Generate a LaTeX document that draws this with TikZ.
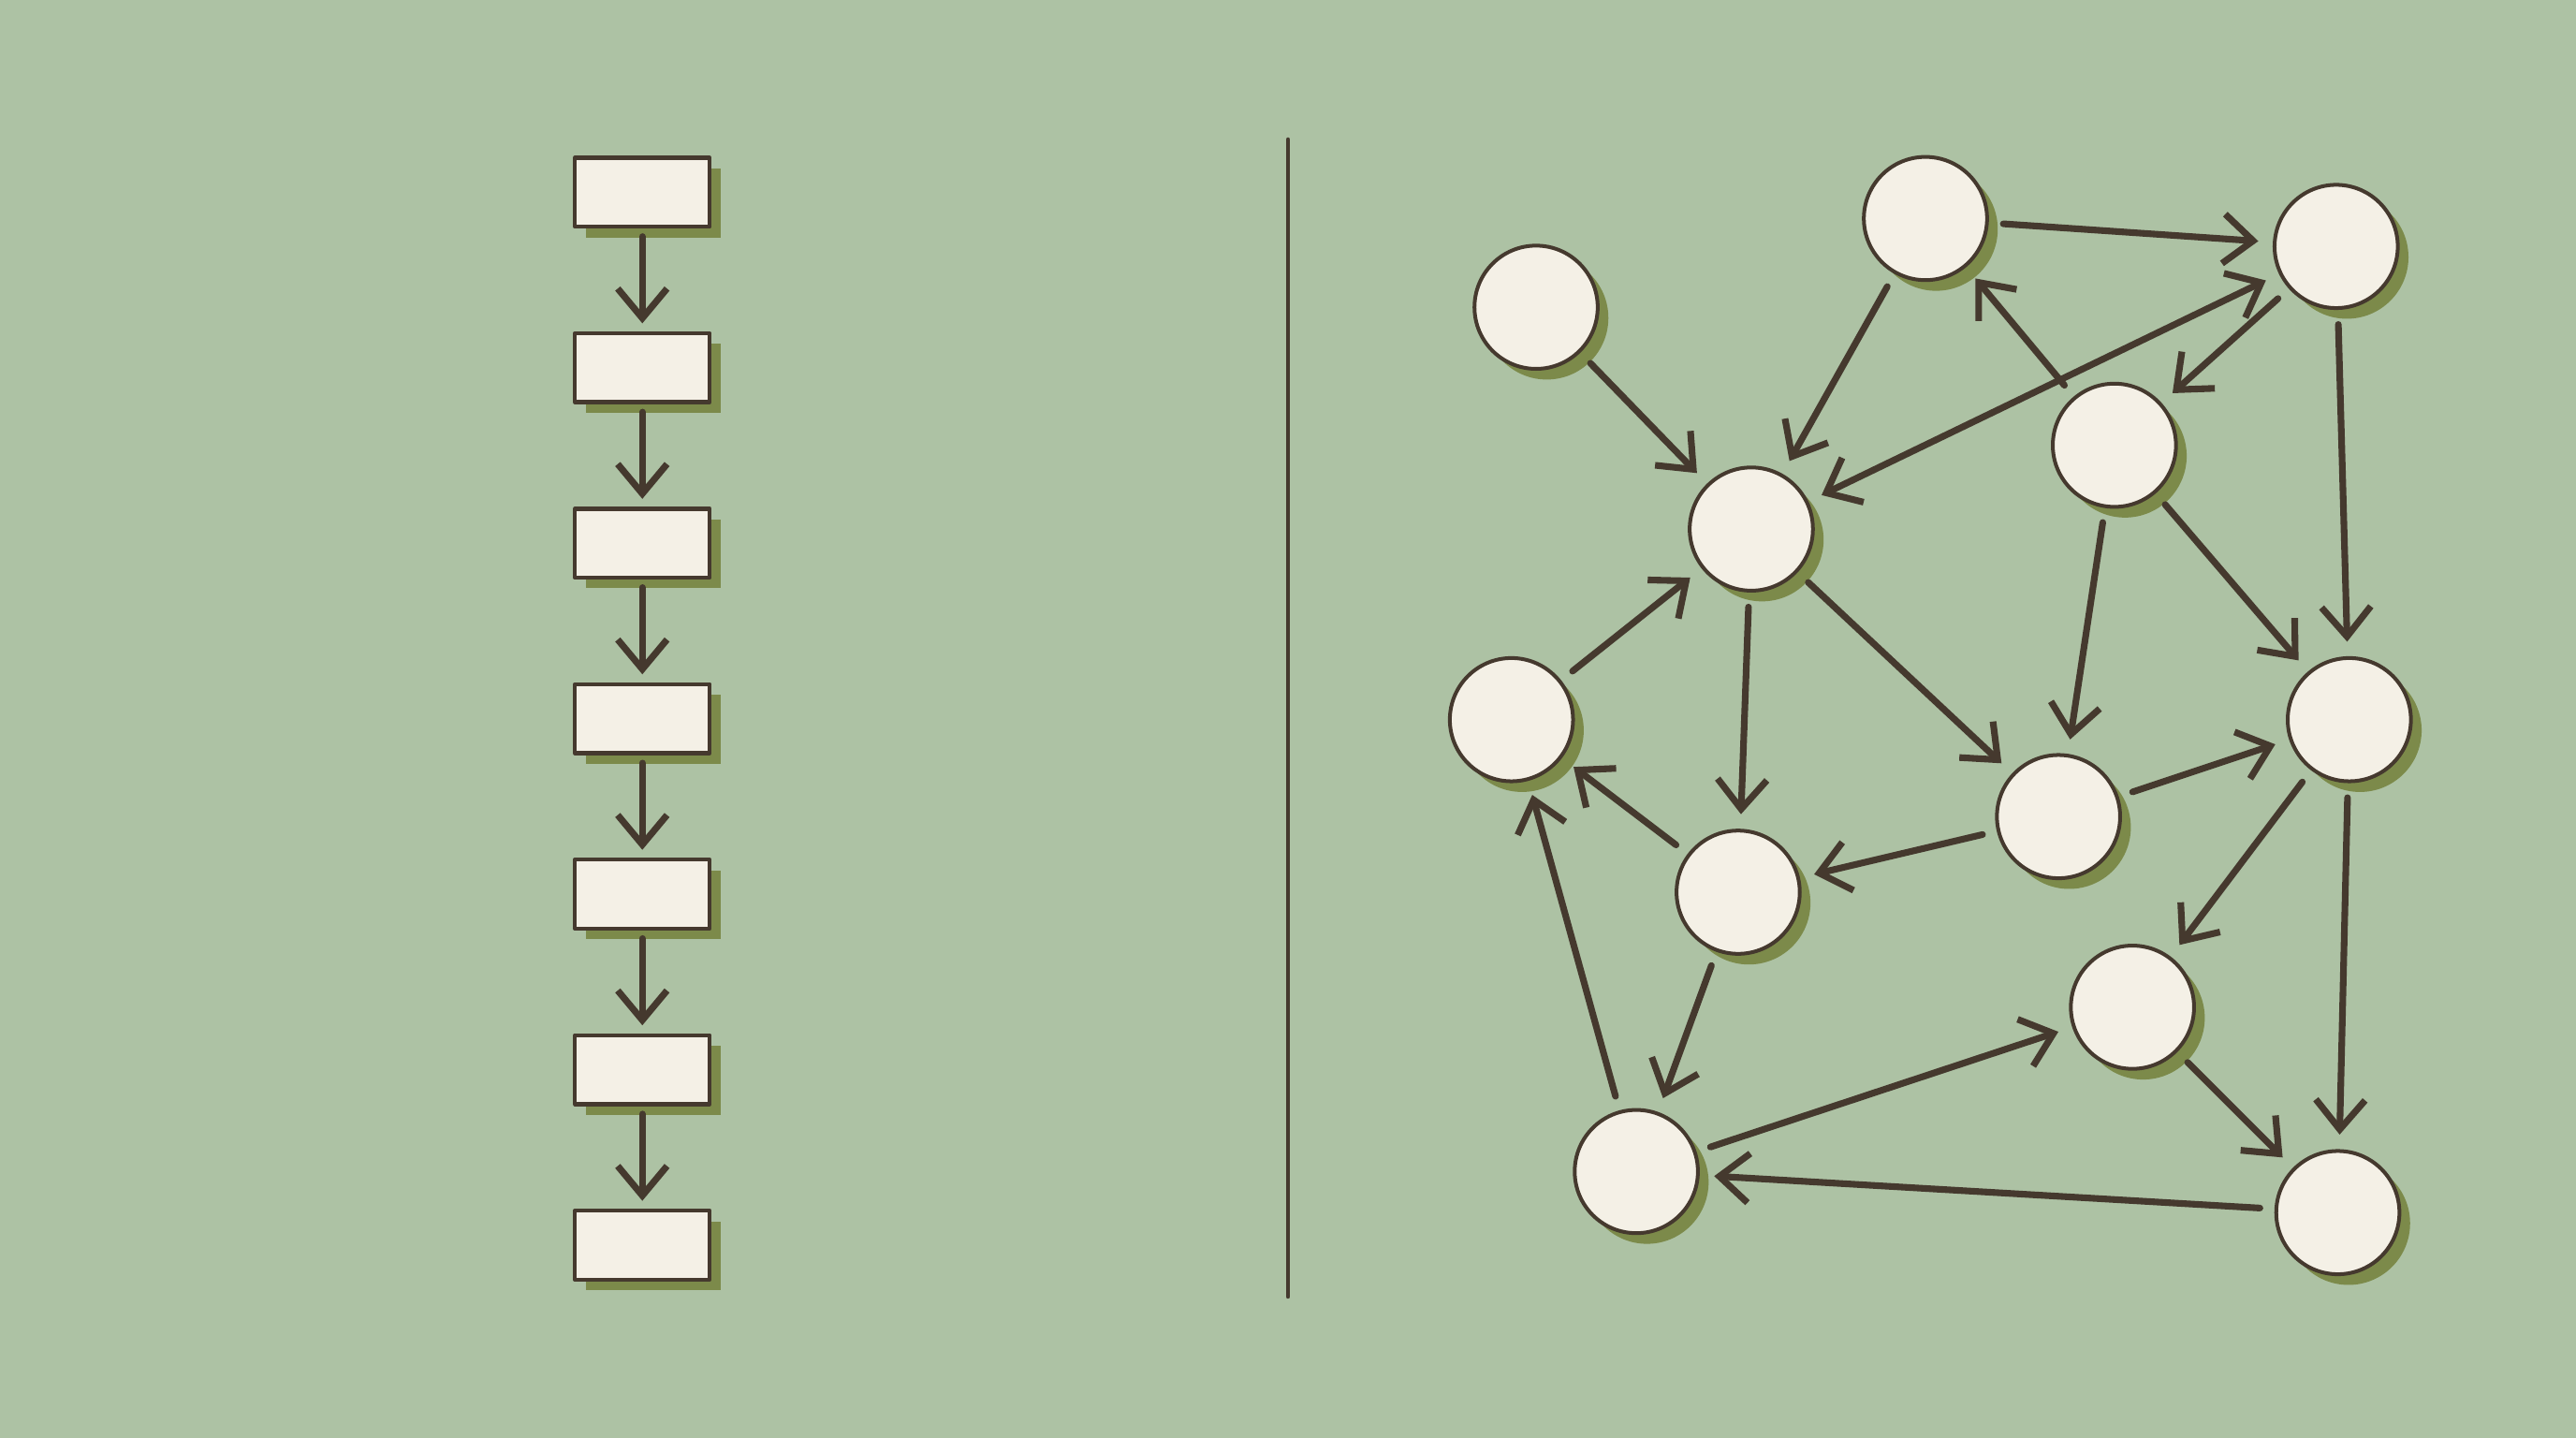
\documentclass[tikz,border=0pt]{standalone}
\usetikzlibrary{arrows.meta,shadows}
\definecolor{bgc}{HTML}{ADC2A4}
\definecolor{paper}{HTML}{F4F0E6}
\definecolor{ink}{HTML}{45392E}
\definecolor{olivec}{HTML}{7C8A4A}
\begin{document}
\begin{tikzpicture}[line join=round, line cap=round,
	>={Straight Barb[length=1.8mm,width=3mm]},
	flat/.style={drop shadow={fill=olivec, opacity=1, shadow xshift=.065, shadow yshift=-.065}},
	stepbox/.style={draw=ink, line width=.7pt, fill=paper, flat, minimum width=.82cm, minimum height=.42cm, inner sep=0pt, outer sep=.06cm},
	dot/.style={circle, draw=ink, line width=.65pt, fill=paper, flat, minimum size=.75cm, inner sep=0pt, outer sep=.1cm},
	link/.style={->, draw=ink, line width=1.15pt}]
	\fill[bgc] (0,0) rectangle (15.68,8.75);
	% chain on the left
	\foreach \i in {0,...,6}
		\node[stepbox] (b\i) at (3.91,{7.58-1.068*\i}) {};
	\foreach \i [evaluate=\i as \j using int(\i+1)] in {0,...,5}
		\draw[link] (b\i) -- (b\j);
	% separator
	\draw[ink, line width=.8pt] (7.84,7.90) -- (7.84,0.86);
	% graph on the right
	\foreach \n/\x/\y in {a/9.35/6.88, b/11.72/7.42, c/14.22/7.25, d/12.87/6.04,
		e/10.66/5.53, f/9.20/4.37, g/14.30/4.37, h/12.53/3.78,
		i/10.58/3.32, j/12.98/2.62, k/9.96/1.62, l/14.23/1.37}
		\node[dot] (\n) at (\x,\y) {};
	\foreach \s/\t in {a/e, b/e, b/c, d/b, c/d, c/g, d/g, d/h, e/i, e/h,
		f/e, h/g, h/i, i/f, k/f, i/k, k/j, g/j, g/l, j/l, l/k}
		\draw[link] (\s) -- (\t);
	\draw[link, <->] (e) -- (c);
\end{tikzpicture}
\end{document}
